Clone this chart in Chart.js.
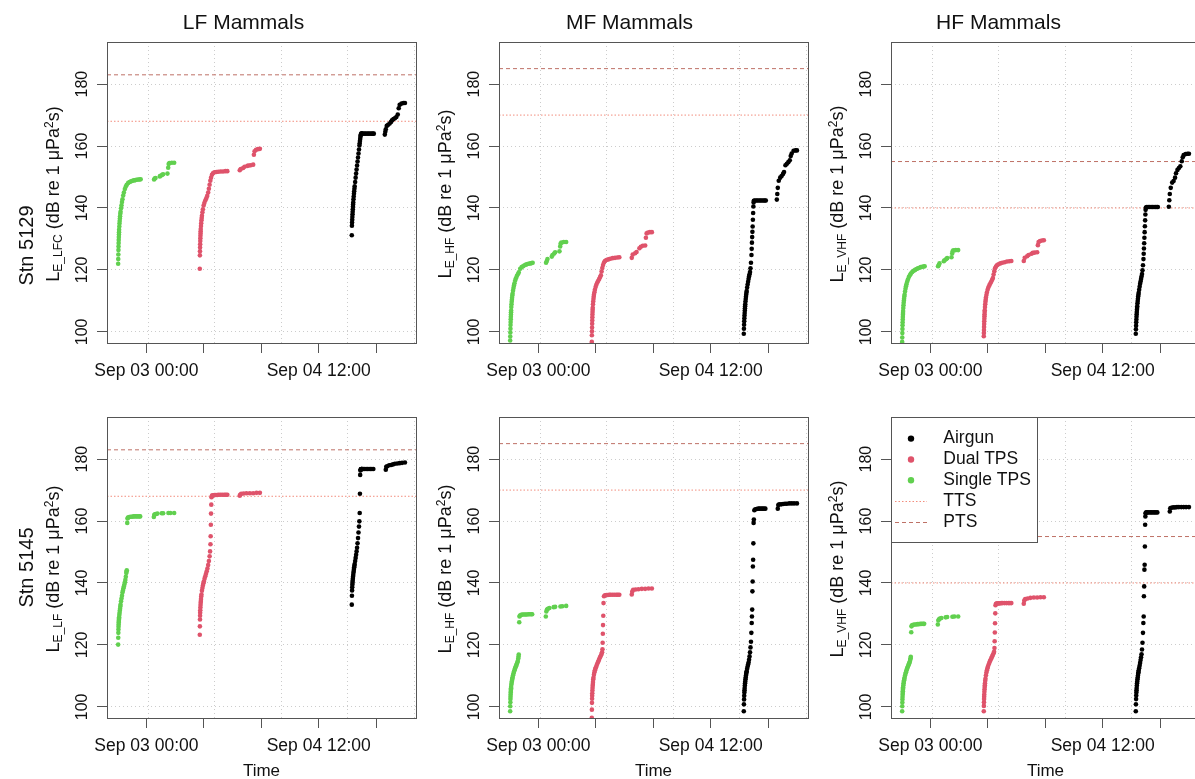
<!DOCTYPE html>
<html>
<head>
<meta charset="utf-8">
<script src="https://cdn.jsdelivr.net/npm/chart.js@4.4.1/dist/chart.umd.min.js"></script>
<style>
  html, body { margin: 0; padding: 0; background: #fff; }
  #page { position: relative; width: 1195px; height: 779px; overflow: hidden; background: #fff; }
  #page canvas { position: absolute; }
</style>
</head>
<body>
<div id="page"></div>
<script>
// time is in hours from Sep 03 00:00
const timeTicks = [0, 12, 24, 36, 48];
const timeLabels = ['Sep 03 00:00', '', '', 'Sep 04 12:00', ''];
const gridHours = [0.35, 14.24, 28.13, 42.02, 55.9];
const levelTicks = [100, 120, 140, 160, 180];

const hearingGroups = ['LF Mammals', 'MF Mammals', 'HF Mammals'];
const stations = ['Stn 5129', 'Stn 5145'];
const sources = ['Airgun', 'Dual TPS', 'Single TPS'];
const weightings = [['E_LFC', 'E_HF', 'E_VHF'], ['E_LF', 'E_HF', 'E_VHF']];
const ttsLevels = [168, 170, 140];
const ptsLevels = [183, 185, 155];

// ---- Stn 5129 ----
const t5129Airgun = [42.9, 42.93, 42.96, 42.99, 43.02, 43.05, 43.08, 43.11, 43.14, 43.17, 43.2, 43.25, 43.3, 43.35, 43.4, 43.45, 43.5,
  43.6, 43.7, 43.8, 43.9, 44.0, 44.1, 44.2, 44.3, 44.4, 44.5, 44.55, 44.6, 44.65, 44.7, 44.75, 44.8, 44.85, 44.9, 44.95, 45.0,
  45.2, 45.5, 45.8, 46.1, 46.4, 46.7, 47.0, 47.3, 47.5,
  49.8, 49.9, 50.0, 50.2, 50.5, 50.8, 51.1, 51.3, 51.6, 51.9, 52.2, 52.5, 52.7, 52.9, 53.3, 53.7, 54.0];
const t5129Dual = [11.15, 11.17, 11.19, 11.21, 11.23, 11.25, 11.27, 11.29, 11.31, 11.33, 11.35, 11.4, 11.45, 11.5, 11.55, 11.6,
  11.7, 11.8, 11.95, 12.1, 12.3, 12.5, 12.7, 12.9, 13.05, 13.2, 13.35, 13.5, 13.7, 13.9, 14.2, 14.6, 15.0, 15.5, 16.0, 16.5, 16.9,
  19.5, 19.7, 20.2, 20.5, 21.1, 21.4, 21.8, 22.3, 22.45, 22.6, 22.9, 23.3, 23.7];
const t5129Single = [-5.9, -5.88, -5.86, -5.84, -5.82, -5.8, -5.78, -5.76, -5.74, -5.72, -5.7, -5.66, -5.62, -5.58, -5.54, -5.5,
  -5.45, -5.4, -5.3, -5.2, -5.1, -5.0, -4.85, -4.7, -4.5, -4.3, -4.1, -3.8, -3.5, -3.2, -2.9, -2.6, -2.3, -2.0, -1.7, -1.4, -1.2,
  1.6, 1.75, 1.9, 2.8, 2.95, 3.3, 3.5, 4.4, 4.55, 4.65, 4.8, 5.3, 5.8];

const lfc5129Airgun = [131.2, 134.3, 135.3, 136.2, 137.1, 138, 138.8, 139.6, 140.4, 141.1, 141.8, 142.8, 143.7, 144.6, 145.4, 146.2, 147,
  148.4, 149.8, 151.1, 152.4, 153.7, 155, 156.3, 157.6, 158.9, 160.2, 160.9, 161.6, 162.3, 162.9, 163.4, 163.7, 163.9, 164, 164, 164,
  164, 164, 164, 164, 164, 164, 164, 164, 164,
  163.7, 164.6, 165.4, 166.5, 166.9, 167.3, 167.8, 168.3, 168.7, 169, 169.4, 170.2, 172.2, 173.3, 173.7, 173.9, 173.9];
const hf5129Airgun = [99.4, 101, 102.3, 103.4, 104.4, 105.3, 106.1, 106.9, 107.6, 108.3, 108.9, 109.8, 110.6, 111.3, 112, 112.6, 113.2,
  114.3, 115.3, 116.2, 117.1, 117.9, 118.6, 119.3, 120.5, 122.3, 124.8, 126.8, 128.8, 130.6, 132.3, 134, 136.2, 138.4, 140.5, 141.8, 142.3,
  142.4, 142.4, 142.4, 142.4, 142.4, 142.4, 142.4, 142.4, 142.4,
  142.7, 144.5, 146.5, 148.8, 149.8, 150.3, 151, 151.6, 153.8, 154.3, 154.8, 155.4, 156.8, 157.6, 158.5, 158.6, 158.6];
const vhf5129Airgun = [99.4, 100.8, 102, 103.1, 104, 104.9, 105.7, 106.4, 107.1, 107.7, 108.3, 109.2, 110, 110.7, 111.4, 112, 112.6,
  113.6, 114.6, 115.5, 116.3, 117.1, 117.9, 118.7, 119.9, 121.5, 123.5, 125.2, 126.9, 128.6, 130.4, 132.2, 134.1, 136, 137.9, 139.4, 140.1,
  140.3, 140.3, 140.3, 140.3, 140.3, 140.3, 140.3, 140.3, 140.3,
  140.4, 142.5, 144.5, 146.5, 148.2, 148.7, 149.8, 151.2, 152.3, 152.9, 153.5, 155.1, 156.4, 157.1, 157.4, 157.5, 157.5];

const lfc5129Dual = [120.4, 124.7, 126, 127.2, 128.3, 129.3, 130.2, 131, 131.8, 132.5, 133.2, 134.2, 135.1, 136, 136.8, 137.5,
  138.6, 139.6, 140.8, 141.6, 142.4, 143.1, 143.9, 145, 146.2, 147.5, 148.8, 149.8, 150.7, 151.2, 151.5, 151.6, 151.7, 151.8, 151.8, 151.9, 151.9,
  152.2, 152.6, 152.9, 153.3, 153.6, 153.7, 153.8, 154, 157.2, 158.3, 158.8, 159, 159.1];
const hf5129Dual = [96.8, 98.9, 100.2, 101.4, 102.6, 103.7, 104.7, 105.6, 106.4, 107.1, 107.8, 108.9, 109.8, 110.6, 111.3, 112,
  112.8, 113.6, 114.5, 115.2, 115.9, 116.5, 117.1, 117.7, 118.3, 119.5, 120.6, 121.6, 122.4, 122.9, 123.2, 123.4, 123.6, 123.8, 123.9, 124, 124.1,
  123.9, 125, 125.4, 125.8, 127, 127.5, 127.8, 127.9, 130.4, 131.8, 132.1, 132.2, 132.2];
const vhf5129Dual = [98.6, 99.6, 100.6, 101.6, 102.5, 103.4, 104.2, 105, 105.7, 106.4, 107, 108, 108.9, 109.7, 110.4, 111.1,
  111.9, 112.7, 113.6, 114.3, 115, 115.6, 116.2, 116.8, 117.4, 118.5, 119.6, 120.5, 121.1, 121.5, 121.8, 122.1, 122.3, 122.5, 122.7, 122.8, 122.9,
  122.9, 123.9, 124.4, 124.8, 125.2, 125.5, 125.6, 125.7, 128, 129, 129.3, 129.5, 129.6];

const lfc5129Single = [122, 123.5, 125, 126.4, 127.6, 128.7, 129.7, 130.6, 131.4, 132.2, 133, 134, 135, 135.8, 136.6, 137.3,
  138.1, 138.8, 139.9, 140.9, 141.9, 142.8, 144, 145, 146.1, 146.9, 147.5, 148.1, 148.4, 148.6, 148.8, 148.9, 149, 149.1, 149.2, 149.2, 149.3,
  149.2, 149.5, 149.7, 150.2, 150.4, 150.7, 150.9, 151.1, 153.0, 154.2, 154.5, 154.6, 154.6];
const hf5129Single = [97.2, 98.5, 99.8, 101, 102.2, 103.2, 104.1, 104.9, 105.6, 106.3, 106.9, 108, 108.9, 109.7, 110.4, 111,
  111.7, 112.3, 113.3, 114.2, 115, 115.7, 116.6, 117.3, 118, 118.6, 119.2, 120.4, 120.9, 121.2, 121.5, 121.7, 121.9, 122, 122.1, 122.2, 122.3,
  122.3, 122.9, 123.5, 124.3, 124.8, 125.3, 125.7, 126, 127.6, 128.5, 128.8, 129, 129];
const vhf5129Single = [96.8, 98.2, 99.6, 100.9, 102.1, 103.1, 104, 104.8, 105.5, 106.1, 106.7, 107.7, 108.6, 109.4, 110.1, 110.7,
  111.4, 112, 113, 113.9, 114.7, 115.4, 116.2, 116.9, 117.7, 118.3, 118.8, 119.3, 119.7, 120, 120.3, 120.5, 120.7, 120.9, 121, 121.1, 121.2,
  121.2, 121.6, 122.1, 122.8, 123.1, 123.5, 123.8, 124.1, 125.3, 126, 126.3, 126.4, 126.4];

// ---- Stn 5145 ----
const t5145Airgun = [42.9, 42.93, 42.96, 42.99, 43.02, 43.05, 43.08, 43.12, 43.16, 43.2, 43.25, 43.3, 43.35, 43.4, 43.45, 43.5,
  43.6, 43.7, 43.8, 43.9, 44.0, 44.1, 44.2, 44.3, 44.4, 44.48, 44.55, 44.6, 44.65, 44.7, 44.75, 44.8, 44.85, 44.9, 44.95, 45.0,
  45.1, 45.3, 45.6, 45.9, 46.2, 46.5, 46.8, 47.1, 47.4,
  50.0, 50.1, 50.3, 50.7, 51.1, 51.5, 51.9, 52.4, 52.9, 53.4, 54.0];
const t5145Dual = [11.15, 11.17, 11.19, 11.21, 11.23, 11.25, 11.28, 11.31, 11.34, 11.37, 11.4, 11.45, 11.5, 11.6, 11.7, 11.8, 11.9, 12.0,
  12.15, 12.3, 12.45, 12.6, 12.75, 12.9, 13.05, 13.2, 13.3, 13.38, 13.42, 13.46, 13.5, 13.55, 13.6,
  13.7, 13.9, 14.2, 14.5, 14.8, 15.1, 15.5, 15.9, 16.3, 16.6, 16.9,
  19.5, 19.6, 19.8, 20.3, 20.9, 21.6, 22.3, 23.0, 23.7];
const t5145Single = [-5.9, -5.88, -5.86, -5.84, -5.82, -5.8, -5.78, -5.76, -5.74, -5.72, -5.7, -5.65, -5.6, -5.55, -5.5, -5.45, -5.4,
  -5.3, -5.2, -5.1, -5.0, -4.9, -4.8, -4.7, -4.6, -4.5, -4.4, -4.3, -4.2, -4.15, -4.1, -4.0, -3.95, -3.85,
  -3.6, -3.3, -3.0, -2.7, -2.4, -2.1, -1.8, -1.5, -1.3,
  1.55, 1.65, 1.8, 2.0, 2.3, 3.2, 3.5, 4.6, 5.0, 5.8];

const lf5145Airgun = [133, 135.9, 137.6, 138.6, 139.4, 140.1, 140.7, 141.4, 142, 142.6, 143.3, 143.9, 144.5, 145.1, 145.6, 146.1,
  147.1, 148.1, 149.1, 150.2, 151.4, 152.8, 154.5, 156.3, 158.2, 159.9, 162.6, 168.8, 174.9, 176.3, 176.6, 176.7, 176.7, 176.8, 176.8, 176.8,
  176.8, 176.8, 176.8, 176.8, 176.8, 176.8, 176.8, 176.8, 176.8,
  176.6, 177.5, 177.7, 178, 178.1, 178.3, 178.5, 178.6, 178.7, 178.8, 178.9];
const hf5145Airgun = [98.6, 100.8, 102.4, 103.6, 104.6, 105.4, 106.1, 106.9, 107.6, 108.2, 108.9, 109.5, 110.1, 110.6, 111.1, 111.5,
  112.3, 113, 113.7, 114.3, 115.2, 116.3, 117.6, 119.2, 121, 123.9, 127.1, 129.2, 131.4, 137.3, 140.5, 145.3, 147.5, 152.8, 159.4, 160.5,
  163.5, 163.8, 163.9, 164, 164, 164, 164, 164, 164,
  164, 165.2, 165.4, 165.4, 165.5, 165.6, 165.6, 165.7, 165.7, 165.7, 165.7];
const vhf5145Airgun = [98.6, 100.8, 102.5, 103.7, 104.6, 105.4, 106.1, 106.9, 107.6, 108.2, 108.9, 109.5, 110.1, 110.7, 111.2, 111.7,
  112.5, 113.3, 114.2, 115.1, 116, 117, 118.5, 120.7, 123.9, 127.1, 129.2, 135.7, 138.9, 144.3, 145.9, 151.8, 158.8, 161.5, 162.5, 162.7,
  162.8, 162.8, 162.8, 162.8, 162.8, 162.8, 162.8, 162.8, 162.8,
  163.1, 164.1, 164.3, 164.4, 164.4, 164.5, 164.5, 164.5, 164.5, 164.5, 164.5];

const lf5145Dual = [123.3, 126, 128.2, 129.4, 130.4, 131.2, 132.1, 132.9, 133.6, 134.2, 134.8, 135.6, 136.3, 137.5, 138.4, 139.2, 139.9, 140.5,
  141.4, 142.2, 143, 143.8, 144.7, 145.8, 147.1, 148.6, 150.2, 152.5, 155.1, 158.8, 162.4, 165.3, 167.7,
  168.2, 168.3, 168.4, 168.4, 168.4, 168.5, 168.5, 168.5, 168.5, 168.5, 168.5,
  168.2, 168.5, 168.8, 168.9, 169, 169, 169, 169.1, 169.1];
const hf5145Dual = [96.5, 99.1, 101.3, 102.6, 103.6, 104.4, 105.3, 106.1, 106.8, 107.4, 108, 108.8, 109.4, 110.4, 111.2, 111.8, 112.3, 112.7,
  113.3, 113.9, 114.5, 115, 115.6, 116.1, 116.6, 117.1, 117.6, 118.6, 120.7, 123.6, 126.4, 129.4, 133.5,
  135.7, 136, 136.1, 136.1, 136.2, 136.2, 136.2, 136.2, 136.2, 136.2, 136.2,
  136.3, 137.2, 137.8, 137.9, 138, 138.1, 138.1, 138.2, 138.2];
const vhf5145Dual = [98.6, 100.3, 101.5, 102.5, 103.3, 104, 104.9, 105.7, 106.4, 107, 107.6, 108.4, 109.1, 110.2, 111.1, 111.8, 112.4, 112.9,
  113.6, 114.2, 114.8, 115.3, 115.8, 116.3, 116.8, 117.3, 117.8, 119, 121.2, 124, 127, 130.2, 132.8,
  133.3, 133.4, 133.4, 133.4, 133.5, 133.5, 133.5, 133.5, 133.5, 133.5, 133.5,
  133.3, 134.3, 134.8, 135, 135.2, 135.3, 135.3, 135.4, 135.4];

const lf5145Single = [120.1, 122.3, 123.9, 125, 125.9, 126.6, 127.2, 127.7, 128.1, 128.5, 128.9, 129.7, 130.4, 131.1, 131.7, 132.4, 133,
  134.1, 135, 135.9, 136.9, 137.6, 138.3, 138.9, 139.5, 140.2, 141, 142, 143.2, 143.7, 144.1, 159.4, 160.8, 161.1,
  161.3, 161.4, 161.4, 161.5, 161.5, 161.5, 161.5, 161.5, 161.5,
  161.3, 162, 162.2, 162.3, 162.4, 162.5, 162.5, 162.6, 162.6, 162.6];
const hf5145Single = [98.6, 100.2, 101.5, 102.5, 103.3, 104, 104.6, 105.1, 105.6, 106, 106.4, 107.1, 107.7, 108.2, 108.7, 109.1, 109.5,
  110.2, 110.8, 111.3, 111.8, 112.3, 112.7, 113.1, 113.5, 113.9, 114.3, 114.8, 115.6, 116.3, 116.9, 127.3, 129.2, 129.5,
  129.7, 129.8, 129.8, 129.8, 129.8, 129.9, 129.9, 129.9, 129.9,
  129.2, 130.8, 131.4, 131.7, 131.9, 132.2, 132.3, 132.4, 132.5, 132.6];
const vhf5145Single = [98.6, 100.2, 101.4, 102.4, 103.2, 103.9, 104.5, 105, 105.5, 105.9, 106.3, 107, 107.6, 108.1, 108.6, 109, 109.4,
  110.1, 110.7, 111.2, 111.7, 112.2, 112.6, 113, 113.4, 113.8, 114.2, 114.6, 115.2, 115.7, 116.2, 124.1, 126, 126.3,
  126.5, 126.6, 126.6, 126.7, 126.7, 126.8, 126.8, 126.8, 126.8,
  126.6, 127.9, 128.3, 128.5, 128.7, 128.9, 129, 129.1, 129.2, 129.2];

const stationData = [
  {
    times: [t5129Airgun, t5129Dual, t5129Single],
    levels: [
      [lfc5129Airgun, lfc5129Dual, lfc5129Single],
      [hf5129Airgun, hf5129Dual, hf5129Single],
      [vhf5129Airgun, vhf5129Dual, vhf5129Single]
    ]
  },
  {
    times: [t5145Airgun, t5145Dual, t5145Single],
    levels: [
      [lf5145Airgun, lf5145Dual, lf5145Single],
      [hf5145Airgun, hf5145Dual, hf5145Single],
      [vhf5145Airgun, vhf5145Dual, vhf5145Single]
    ]
  }
];

const FONT = '"Liberation Sans", Arial, Helvetica, sans-serif';
Chart.defaults.font.family = FONT;
Chart.defaults.color = '#111';

const X_MIN = -8.23, X_MAX = 56.31;
const Y_MIN = 96.4, Y_MAX = 193.6;
const sourceColors = ['#000000', '#DF536B', '#61D04F'];
const colLeft = [0, 392, 784];
const rowTop = [0, 375];
const titleShift = [-18, -24, -47];
const stationLabelY = [245.5, 192.5];

// frame, headings, y title with subscript, and the legend box
const panelDecor = {
  id: 'panelDecor',
  afterDatasetsDraw(chart, args, o) {
    const { ctx, chartArea: a } = chart;
    const midY = (a.top + a.bottom) / 2;
    ctx.save();
    ctx.fillStyle = '#111';

    if (o.title) {
      ctx.font = '21px ' + FONT;
      ctx.textAlign = 'center';
      ctx.textBaseline = 'alphabetic';
      ctx.fillText(o.title, (a.left + a.right) / 2 + o.titleShift, 28.5);
    }

    if (o.station) {
      ctx.save();
      ctx.translate(32.5, o.stationY);
      ctx.rotate(-Math.PI / 2);
      ctx.font = '20px ' + FONT;
      ctx.textAlign = 'center';
      ctx.textBaseline = 'alphabetic';
      ctx.fillText(o.station, 0, 0);
      ctx.restore();
    }

    // L_E_xx (dB re 1 μPa²s)
    const parts = [['L', 18, 0], [o.sub, 12, 3], [' (dB re 1 \u03bcPa', 18, 0], ['2', 12, -5.5], ['s)', 18, 0]];
    ctx.save();
    ctx.translate(58.5, midY + 1.5);
    ctx.rotate(-Math.PI / 2);
    ctx.textAlign = 'left';
    ctx.textBaseline = 'alphabetic';
    let total = 0;
    parts.forEach(p => { ctx.font = p[1] + 'px ' + FONT; total += ctx.measureText(p[0]).width; });
    let x = -total / 2;
    parts.forEach(p => {
      ctx.font = p[1] + 'px ' + FONT;
      ctx.fillText(p[0], x, p[2]);
      x += ctx.measureText(p[0]).width;
    });
    ctx.restore();

    if (o.legend) {
      const w = 146, h = 125;
      ctx.fillStyle = '#fff';
      ctx.fillRect(a.left, a.top, w, h);
      ctx.strokeStyle = '#555';
      ctx.lineWidth = 1;
      ctx.strokeRect(a.left + 0.5, a.top + 0.5, w, h);
      ctx.font = '17.5px ' + FONT;
      ctx.textAlign = 'left';
      ctx.textBaseline = 'middle';
      chart.data.datasets.forEach((ds, i) => {
        const y = a.top + 21.6 + i * 20.85;
        if (ds.type === 'line') {
          ctx.strokeStyle = ds.borderColor;
          ctx.setLineDash(ds.borderDash);
          ctx.beginPath();
          ctx.moveTo(a.left + 4, Math.round(y) + 0.5);
          ctx.lineTo(a.left + 36, Math.round(y) + 0.5);
          ctx.stroke();
          ctx.setLineDash([]);
        } else {
          ctx.fillStyle = ds.backgroundColor;
          ctx.beginPath();
          ctx.arc(a.left + 20, y, 3.2, 0, Math.PI * 2);
          ctx.fill();
        }
        ctx.fillStyle = '#111';
        ctx.fillText(ds.label, a.left + 52.3, y);
      });
    }

    ctx.strokeStyle = '#555';
    ctx.lineWidth = 1;
    ctx.strokeRect(a.left + 0.5, a.top + 0.5, a.width, a.height);
    ctx.restore();
  }
};

function thresholdLine(label, level, color, dash) {
  return {
    type: 'line',
    label: label,
    data: [{ x: X_MIN, y: level }, { x: X_MAX, y: level }],
    borderColor: color,
    borderWidth: 1,
    borderDash: dash,
    pointRadius: 0,
    fill: false,
    xAxisID: 'x',
    yAxisID: 'y'
  };
}

const page = document.getElementById('page');

stations.forEach((station, r) => {
  const st = stationData[r];
  hearingGroups.forEach((group, c) => {
    const canvas = document.createElement('canvas');
    canvas.width = 430;
    canvas.height = 420;
    canvas.style.left = colLeft[c] + 'px';
    canvas.style.top = rowTop[r] + 'px';
    page.appendChild(canvas);

    const datasets = sources.map((src, k) => ({
      label: src,
      data: st.times[k].map((t, i) => ({ x: t, y: st.levels[c][k][i] })),
      backgroundColor: sourceColors[k],
      pointRadius: 2.3,
      pointBorderWidth: 0,
      clip: 0,
      xAxisID: 'x',
      yAxisID: 'y'
    }));
    datasets.push(thresholdLine('TTS', ttsLevels[c], '#F28C7C', [1.5, 2]));
    datasets.push(thresholdLine('PTS', ptsLevels[c], '#BE7166', [4, 3]));

    new Chart(canvas, {
      type: 'scatter',
      data: { datasets },
      options: {
        responsive: false,
        animation: false,
        events: [],
        layout: { autoPadding: false, padding: { top: 42, right: 14, bottom: 0, left: 0 } },
        plugins: {
          legend: { display: false },
          tooltip: { enabled: false },
          panelDecor: {
            title: r === 0 ? group : null,
            titleShift: titleShift[c],
            station: c === 0 ? station : null,
            stationY: stationLabelY[r],
            sub: weightings[r][c],
            legend: r === 1 && c === 2
          }
        },
        scales: {
          x: {
            type: 'linear',
            position: 'bottom',
            min: X_MIN,
            max: X_MAX,
            afterBuildTicks: s => { s.ticks = timeTicks.map(value => ({ value })); },
            afterFit: s => { s.height = 77; },
            ticks: {
              autoSkip: false,
              maxRotation: 0,
              padding: 8,
              color: '#111',
              font: { size: 17.5 },
              callback: (v, i) => timeLabels[i]
            },
            grid: { drawOnChartArea: false, tickLength: 10, tickColor: '#555' },
            border: { display: false },
            title: {
              display: r === 1,
              text: 'Time',
              color: '#111',
              font: { size: 17 },
              padding: { top: 0, bottom: 13 }
            }
          },
          xg: {
            type: 'linear',
            position: 'bottom',
            min: X_MIN,
            max: X_MAX,
            afterBuildTicks: s => { s.ticks = gridHours.map(value => ({ value })); },
            afterFit: s => { s.height = 0; },
            ticks: { display: false },
            grid: { color: '#cccccc', drawTicks: false },
            border: { display: false, dash: [1, 3] }
          },
          y: {
            type: 'linear',
            min: Y_MIN,
            max: Y_MAX,
            afterBuildTicks: s => { s.ticks = levelTicks.map(value => ({ value })); },
            afterFit: s => { s.width = 107; },
            ticks: {
              autoSkip: false,
              minRotation: 90,
              maxRotation: 90,
              crossAlign: 'center',
              padding: 1,
              color: '#111',
              font: { size: 16 }
            },
            grid: { color: '#cccccc', tickLength: 10, tickColor: '#555' },
            border: { display: false, dash: [1, 3] }
          }
        }
      },
      plugins: [panelDecor]
    });
  });
});
</script>
</body>
</html>
